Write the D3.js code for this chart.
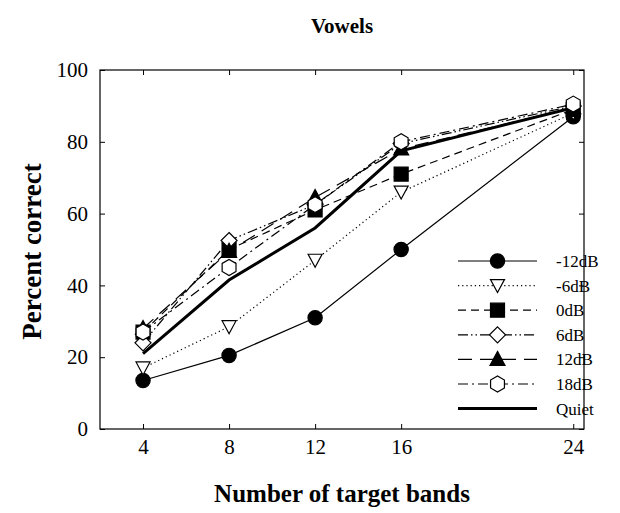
<!DOCTYPE html>
<html>
<head>
<meta charset="utf-8">
<title>Vowels</title>
<script src="https://d3js.org/d3.v7.min.js"></script>
<style>
body { margin: 0; background: #fff; }
text { font-family: "Liberation Serif", "Times New Roman", serif; fill: #000; }
</style>
</head>
<body>
<script>
// bands on x, percent correct on y
var bands = [4, 8, 12, 16, 24];
var seriesNames = ["-12dB", "-6dB", "0dB", "6dB", "12dB", "18dB", "Quiet"];
var m12dB = [13.5, 20.5, 31, 50, 87];
var m6dB  = [17, 28.5, 47, 66, 88];
var p0dB  = [27, 50, 61, 71, 89];
var p6dB  = [24, 52.5, 62.5, 79.5, 90];
var p12dB = [28, 49.5, 64.5, 78, 89.5];
var p18dB = [27, 45, 62.5, 80, 90.5];
var quiet = [21, 41.5, 56, 77.5, 89.5];
var yTicks = [0, 20, 40, 60, 80, 100];

var seriesVals = [m12dB, m6dB, p0dB, p6dB, p12dB, p18dB, quiet];
// line style / marker per series
var dashes  = [null, "1.2,3", "8,5", "10,3,1.5,3,1.5,3", "14,8", "10,4,2,4", null];
var widths  = [1.2, 1.2, 1.2, 1.2, 1.2, 1.2, 3];
var symbols = [d3.symbolCircle, "tridown", d3.symbolSquare, d3.symbolDiamond, d3.symbolTriangle, "hex", null];
var fills   = ["#000", "#fff", "#000", "#fff", "#000", "#fff", null];

var width = 620, height = 513;
var margin = {top: 70, right: 36, bottom: 84, left: 100};
var w = width - margin.left - margin.right;
var h = height - margin.top - margin.bottom;

var x = d3.scaleLinear().domain([2, 24.5]).range([0, w]);
var y = d3.scaleLinear().domain([0, 100]).range([h, 0]);

var svg = d3.select("body").append("svg")
    .attr("width", width).attr("height", height);
var g = svg.append("g")
    .attr("transform", "translate(" + margin.left + "," + margin.top + ")");

// axes with inward ticks on all sides
g.append("g").attr("transform", "translate(0," + h + ")")
  .call(d3.axisBottom(x).tickValues(bands).tickSizeInner(-5).tickSizeOuter(0).tickPadding(10))
  .call(function(a){ a.select(".domain").remove(); });
g.append("g")
  .call(d3.axisTop(x).tickValues(bands).tickSizeInner(-5).tickSizeOuter(0).tickFormat(""))
  .call(function(a){ a.select(".domain").remove(); });
g.append("g")
  .call(d3.axisLeft(y).tickValues(yTicks).tickSizeInner(-5).tickSizeOuter(0).tickPadding(12))
  .call(function(a){ a.select(".domain").remove(); });
g.append("g").attr("transform", "translate(" + w + ",0)")
  .call(d3.axisRight(y).tickValues(yTicks).tickSizeInner(-5).tickSizeOuter(0).tickFormat(""))
  .call(function(a){ a.select(".domain").remove(); });
g.selectAll(".tick text").style("font-size", "21px").style("font-family", "Liberation Serif");
g.selectAll(".tick line").attr("stroke", "#000");

g.append("rect").attr("width", w).attr("height", h)
  .attr("fill", "none").attr("stroke", "#000").attr("stroke-width", 1.2);

function markerPath(sym) {
  if (sym === "tridown") return "M-7,-6L7,-6L0,7Z";
  if (sym === "hex") {
    var r = 8, p = [];
    for (var i = 0; i < 6; i++) {
      var a = Math.PI / 6 + i * Math.PI / 3;
      p.push([r * Math.cos(a), r * Math.sin(a)]);
    }
    return "M" + p.join("L") + "Z";
  }
  if (sym === d3.symbolDiamond) return "M0,-8L8,0L0,8L-8,0Z";
  if (sym === d3.symbolTriangle) return "M0,-8L7.5,6L-7.5,6Z";
  if (sym === d3.symbolSquare) return "M-7,-7L7,-7L7,7L-7,7Z";
  return d3.symbol().type(sym).size(160)();
}

var line = d3.line().x(function(d, i){ return x(bands[i]); }).y(function(d){ return y(d); });

seriesVals.forEach(function(vals, k) {
  g.append("path").datum(vals)
    .attr("d", line)
    .attr("fill", "none").attr("stroke", "#000")
    .attr("stroke-width", widths[k])
    .attr("stroke-dasharray", dashes[k]);
});
seriesVals.forEach(function(vals, k) {
  if (!symbols[k]) return;
  g.selectAll(null).data(vals).enter().append("path")
    .attr("transform", function(d, i){ return "translate(" + x(bands[i]) + "," + y(d) + ")"; })
    .attr("d", markerPath(symbols[k]))
    .attr("fill", fills[k]).attr("stroke", "#000").attr("stroke-width", 1.2);
});

// legend
var lg = svg.append("g").attr("transform", "translate(458,261)");
seriesNames.forEach(function(name, k) {
  var row = lg.append("g").attr("transform", "translate(0," + (k * 24.6) + ")");
  row.append("line").attr("x1", 0).attr("x2", 79).attr("y1", 0).attr("y2", 0)
    .attr("stroke", "#000").attr("stroke-width", widths[k])
    .attr("stroke-dasharray", dashes[k]);
  if (symbols[k]) {
    row.append("path").attr("transform", "translate(39.5,0)")
      .attr("d", markerPath(symbols[k]))
      .attr("fill", fills[k]).attr("stroke", "#000").attr("stroke-width", 1.2);
  }
  row.append("text").attr("x", 98).attr("y", 6).style("font-size", "17px").text(name);
});

// titles
svg.append("text").attr("x", margin.left + w / 2).attr("y", 33)
  .attr("text-anchor", "middle").style("font-size", "21px").style("font-weight", "bold")
  .text("Vowels");
svg.append("text").attr("x", margin.left + w / 2).attr("y", 502)
  .attr("text-anchor", "middle").style("font-size", "25px").style("font-weight", "bold")
  .text("Number of target bands");
svg.append("text").attr("transform", "translate(41," + (margin.top + h / 2 + 2) + ") rotate(-90)")
  .attr("text-anchor", "middle").style("font-size", "27px").style("font-weight", "bold")
  .text("Percent correct");
</script>
</body>
</html>
